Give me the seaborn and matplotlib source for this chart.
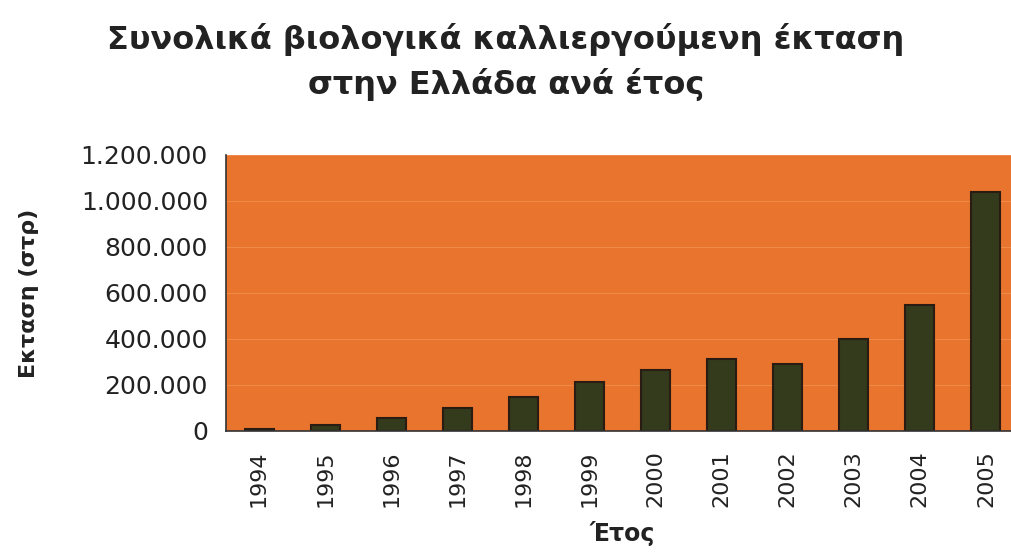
import matplotlib
matplotlib.use("Agg")
import matplotlib.pyplot as plt
import matplotlib.ticker as mticker
import seaborn as sns
import numpy as np
import pandas as pd

# =====================================================
# DATA
# =====================================================

years = ["1994", "1995", "1996", "1997", "1998", "1999",
         "2000", "2001", "2002", "2003", "2004", "2005"]

area = [9000, 27000, 57000, 101000, 148000, 214000,
        265000, 313000, 292000, 398000, 548000, 1039000]

y_ticks = [0, 200000, 400000, 600000, 800000, 1000000, 1200000]

title_text = "Συνολικά βιολογικά καλλιεργούμενη έκταση\nστην Ελλάδα ανά έτος"
x_label = "Έτος"
y_label = "Εκταση (στρ)"

df = pd.DataFrame({"year": years, "area": area})

# =====================================================
# STYLE
# =====================================================

sns.set_style("white")
plt.rcParams['font.family'] = ['DejaVu Sans']

orange = "#e8742e"
bar_color = "#333b1c"
edge_color = "#2a1c12"
text_color = "#222222"

# =====================================================
# PLOT
# =====================================================

fig = plt.figure(figsize=(10.12, 5.58), dpi=100)
ax = fig.add_axes([226 / 1012, 1 - 431 / 558, 793 / 1012, 276 / 558])

sns.barplot(
    data=df,
    x="year",
    y="area",
    color=bar_color,
    edgecolor=edge_color,
    linewidth=1.5,
    width=0.44,
    saturation=1,
    ax=ax
)

ax.set_facecolor(orange)
ax.set_xlim(-0.5, len(years) - 0.5)
ax.set_ylim(0, 1200000)
ax.set_yticks(y_ticks)
ax.yaxis.set_major_formatter(
    mticker.FuncFormatter(lambda v, p: f"{int(v):,}".replace(",", "."))
)

ax.grid(axis='y', color="#f08a45", linewidth=0.8)
ax.set_axisbelow(True)

for s in ["top", "right"]:
    ax.spines[s].set_visible(False)
for s in ["left", "bottom"]:
    ax.spines[s].set_color("#333333")
    ax.spines[s].set_linewidth(1.2)

# year ticks between categories
ax.set_xticks(np.arange(-0.5, len(years), 1), minor=True)
ax.tick_params(axis='x', which='major', length=0, pad=14,
               labelsize=16, labelrotation=90, colors=text_color)
ax.tick_params(axis='x', which='minor', length=6, width=1.2,
               direction='out', color="#333333")
ax.tick_params(axis='y', length=8, width=1.2, direction='out',
               color="#333333", labelsize=18, labelcolor=text_color, pad=5)

ax.set_xlabel(x_label, fontsize=17, fontweight='bold',
              color=text_color, labelpad=10)
ax.set_ylabel(y_label, fontsize=16, fontweight='bold',
              color=text_color, labelpad=30)

fig.text(0.5, 0.958, title_text, ha='center', va='top',
         fontsize=23, fontweight='bold', color=text_color,
         linespacing=1.45)

fig.savefig("out.png", dpi=100, facecolor="white")
